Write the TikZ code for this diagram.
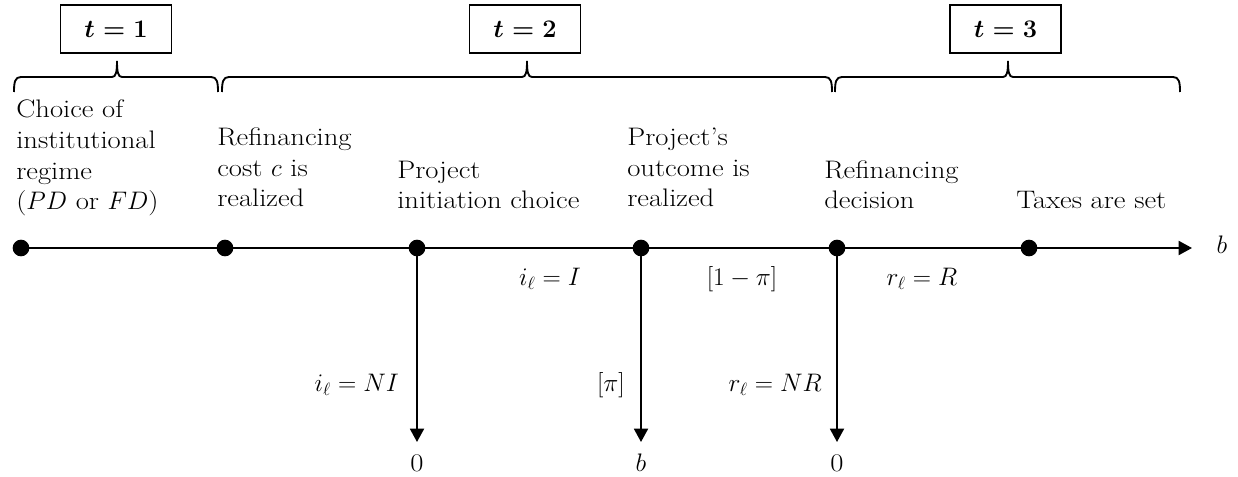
\RequirePackage{fix-cm}
\documentclass[tikz,border=0pt]{standalone}
\usepackage{amsmath}
\usepackage{fontspec}
\setmainfont{Latin Modern Roman}[FakeStretch=1.13]
\usetikzlibrary{arrows.meta}

% curly brace over a period: left end, peak, right end (x in px units)
\newcommand\timebrace[3]{%
  \draw[bracepath] (#1,92) .. controls (#1,82) and ({#1+1},77) .. ({#1+7},77)
    -- ({#2-5},77) .. controls ({#2-1},77) and (#2,72) .. (#2,61)
    .. controls (#2,72) and ({#2+1},77) .. ({#2+5},77)
    -- ({#3-7},77) .. controls ({#3-1},77) and (#3,82) .. (#3,92);}

\begin{document}
\begin{tikzpicture}[x=0.75pt,y=-0.75pt,
  every node/.style={font=\fontsize{19}{23.2}\selectfont},
  event/.style={align=left, anchor=base west, inner sep=0pt},
  dot/.style={circle, fill, inner sep=0pt, minimum size=12.5pt},
  line/.style={line width=1.4pt},
  tip/.style={-{Triangle[length=10pt,width=10.5pt]}},
  period/.style={draw, line width=1.2pt, minimum width=83pt, minimum height=36pt,
    inner sep=0pt, font=\fontsize{19}{20}\selectfont},
  bracepath/.style={line width=1.4pt},
  lab/.style={inner sep=0pt}
]
\useasboundingbox (0,0) rectangle (1238,477);

% periods
\node[period] (p1) at (116,29) {$\boldsymbol{t = 1}$};
\node[period] (p2) at (525,29) {$\boldsymbol{t = 2}$};
\node[period] (p3) at (1005.5,29) {$\boldsymbol{t = 3}$};

\timebrace{14}{117}{218}
\timebrace{222}{527}{832}
\timebrace{835}{1008}{1180}

% events (anchored on the baseline of their last line)
\node[event] (e1) at (16,210) {Choice of\\institutional\\regime\\($PD$ or $FD$)};
\node[event] (e2) at (217,207) {Refinancing\\cost $c$ is\\realized};
\node[event] (e3) at (397,209) {Project\\initiation choice};
\node[event] (e4) at (627,207) {Project’s\\outcome is\\realized};
\node[event] (e5) at (824,209) {Refinancing\\decision};
\node[event] (e6) at (1016,209) {Taxes are set};

% time line
\node[dot] (d1) at (21,248) {};
\node[dot] (d2) at (225,248) {};
\node[dot] (d3) at (417,248) {};
\node[dot] (d4) at (641,248) {};
\node[dot] (d5) at (837,248) {};
\node[dot] (d6) at (1029,248) {};
\coordinate (lineend) at (1192,248);
\node (bout) at (1222,245) {$b$};

\draw[line] (d1.center) -- (d2.center) -- (d3.center) -- (d4.center)
  -- (d5.center) -- (d6.center);
\draw[line,tip] (d6.center) -- (lineend);

% labels along the line
\node[lab] (iI) at (550,279) {$i_\ell = I$};
\node[lab] (pi1) at (742,279) {$[1-\pi]$};
\node[lab] (rR) at (922,279) {$r_\ell = R$};

% branches
\node (z1) at (417,463) {0};
\node (z2) at (641,463) {$b$};
\node (z3) at (837,463) {0};
\draw[line,tip,shorten >=15.75pt] (d3.center) -- (z1.center);
\draw[line,tip,shorten >=15.75pt] (d4.center) -- (z2.center);
\draw[line,tip,shorten >=15.75pt] (d5.center) -- (z3.center);

\node[lab,anchor=east] (nI) at (399,385) {$i_\ell = NI$};
\node[lab,anchor=east] (pi2) at (625,385) {$[\pi]$};
\node[lab,anchor=east] (nR) at (822,385) {$r_\ell = NR$};
\end{tikzpicture}
\end{document}
